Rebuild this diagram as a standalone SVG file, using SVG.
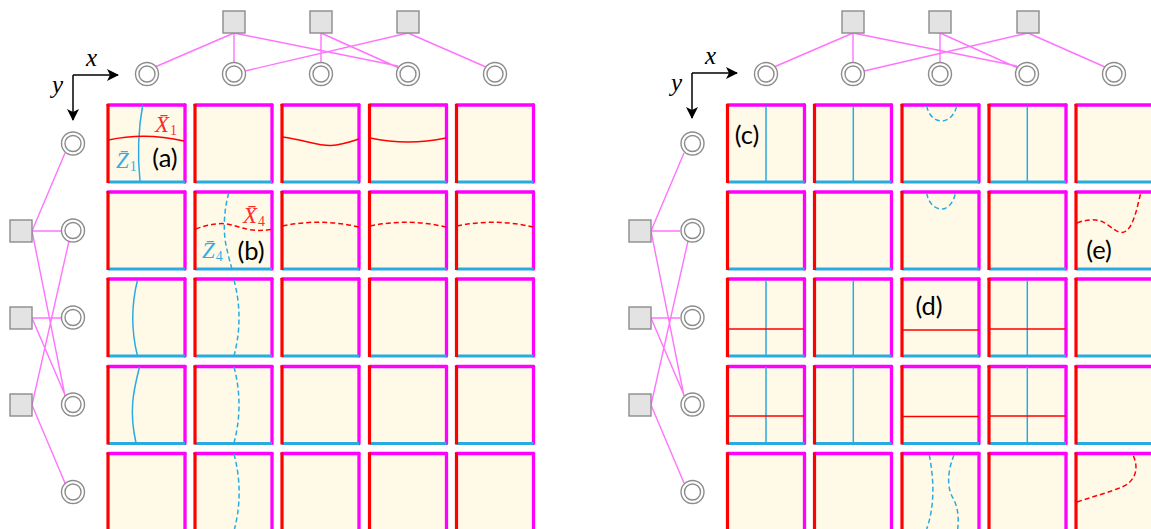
<svg xmlns="http://www.w3.org/2000/svg" width="1151" height="529" viewBox="0 0 1151 529">
<style>
.sq{fill:#e3e3e3;stroke:#8c8c8c;stroke-width:1.4}
.co{fill:#fff;stroke:#8c8c8c;stroke-width:1.4}
.e{stroke:#ff73ff;stroke-width:1.4;fill:none}
.ax{stroke:#000;stroke-width:1.5;fill:none}
.r,.rd{stroke:#ff0000;stroke-width:1.5;fill:none}
.b,.bd{stroke:#29abe2;stroke-width:1.5;fill:none}
.rd,.bd{stroke-dasharray:5 3}
.lab{font-family:Lato,"Open Sans",sans-serif;font-size:25.500px;fill:#000;text-anchor:middle}
.m{font-family:"Liberation Serif",serif;font-style:italic;font-size:23px}
.v{font-size:25px}
.mr{fill:#ff2a2a}.mb{fill:#33aee4}
.s{font-size:14px;font-style:normal}
</style>
<defs>
<g id="cell">
<rect width="77" height="77" fill="#fffae8"/>
<path d="M0 0H77" stroke="#ff00ff" stroke-width="3.300" stroke-linecap="round" fill="none"/>
<path d="M77 0V77" stroke="#ff00ff" stroke-width="3.300" stroke-linecap="round" fill="none"/>
<path d="M0 77H77" stroke="#29abe2" stroke-width="3.200" fill="none"/>
<path d="M0 -1V78" stroke="#ff0000" stroke-width="3.200" fill="none"/>
</g>
<g id="sqn"><rect x="-11" y="-11" width="22" height="22" class="sq"/></g>
<g id="con"><circle r="11.500" class="co"/><circle r="8" class="co"/></g>
<marker id="arr" viewBox="0 0 12 12" refX="11" refY="6" markerWidth="12" markerHeight="12" markerUnits="userSpaceOnUse" orient="auto"><path d="M0 0L12 6L0 12L3 6Z" fill="#000"/></marker>
</defs>

<g id="grid-left">
<use href="#cell" x="108" y="105"/><use href="#cell" x="195" y="105"/><use href="#cell" x="282" y="105"/><use href="#cell" x="369.500" y="105"/><use href="#cell" x="456.500" y="105"/>
<use href="#cell" x="108" y="192"/><use href="#cell" x="195" y="192"/><use href="#cell" x="282" y="192"/><use href="#cell" x="369.500" y="192"/><use href="#cell" x="456.500" y="192"/>
<use href="#cell" x="108" y="279"/><use href="#cell" x="195" y="279"/><use href="#cell" x="282" y="279"/><use href="#cell" x="369.500" y="279"/><use href="#cell" x="456.500" y="279"/>
<use href="#cell" x="108" y="366.500"/><use href="#cell" x="195" y="366.500"/><use href="#cell" x="282" y="366.500"/><use href="#cell" x="369.500" y="366.500"/><use href="#cell" x="456.500" y="366.500"/>
<use href="#cell" x="108" y="453.500"/><use href="#cell" x="195" y="453.500"/><use href="#cell" x="282" y="453.500"/><use href="#cell" x="369.500" y="453.500"/><use href="#cell" x="456.500" y="453.500"/>
</g>
<g id="grid-right">
<use href="#cell" x="727.500" y="105"/><use href="#cell" x="814.500" y="105"/><use href="#cell" x="902" y="105"/><use href="#cell" x="989" y="105"/><use href="#cell" x="1076" y="105"/>
<use href="#cell" x="727.500" y="192"/><use href="#cell" x="814.500" y="192"/><use href="#cell" x="902" y="192"/><use href="#cell" x="989" y="192"/><use href="#cell" x="1076" y="192"/>
<use href="#cell" x="727.500" y="279"/><use href="#cell" x="814.500" y="279"/><use href="#cell" x="902" y="279"/><use href="#cell" x="989" y="279"/><use href="#cell" x="1076" y="279"/>
<use href="#cell" x="727.500" y="366.500"/><use href="#cell" x="814.500" y="366.500"/><use href="#cell" x="902" y="366.500"/><use href="#cell" x="989" y="366.500"/><use href="#cell" x="1076" y="366.500"/>
<use href="#cell" x="727.500" y="453.500"/><use href="#cell" x="814.500" y="453.500"/><use href="#cell" x="902" y="453.500"/><use href="#cell" x="989" y="453.500"/><use href="#cell" x="1076" y="453.500"/>
</g>

<g id="curves-left">
<path class="b" d="M142.700 105Q136 142 140 181"/>
<path class="r" d="M108.500 140Q145 132 184 141"/>
<path class="r" d="M282.500 137C305 140 318 146 331 145.500C342 145 350 142 359 139"/>
<path class="r" d="M370 138Q408 146 446 138"/>
<path class="rd" d="M195.500 229C210 224 222 222 232 225C245 229 255 232 271 229.500"/>
<path class="bd" d="M228.700 193C224 210 223 230 226 245C228 255 230 262 231.700 268"/>
<path class="rd" d="M282.500 226Q320 218 359 227"/>
<path class="rd" d="M370 226Q408 218 446 227"/>
<path class="rd" d="M457 226Q495 218 533 227"/>
<path class="b" d="M137.500 280Q128 318 137.500 356"/>
<path class="bd" d="M234 280Q244 318 234 356"/>
<path class="b" d="M139.500 367C133 392 129 412 136 443"/>
<path class="bd" d="M234 367Q244 405 234 443"/>
<path class="bd" d="M234 454Q244 492 234.500 529"/>
</g>
<g id="curves-right">
<path class="b" d="M766 106V181M853.300 106V181M1027.300 106V181"/>
<path class="b" d="M766 280V356M853.300 280V356M1027.300 280V356"/>
<path class="b" d="M766 367V443M853.300 367V443M1027.300 367V443"/>
<path class="r" d="M728 329H804M903 330H979M990 329H1065"/>
<path class="r" d="M728 416H804M903 416.500H979M990 416H1065"/>
<path class="bd" d="M926.700 106C928 114 934 121 941.700 121C949 121 955 114 956.700 106"/>
<path class="bd" d="M926.700 193C928 202 934 209 941.700 209C948 209 954 202 955.300 193"/>
<path class="rd" d="M1077 223C1090 218 1100 219 1108 225C1116 231 1121 235 1126 231C1134 225 1137 208 1140.700 193"/>
<path class="rd" d="M1077 502C1095 496 1110 492 1122 487C1134 482 1140 470 1133 455"/>
<path class="bd" d="M929.300 455C934 480 935 505 926.700 529"/>
<path class="bd" d="M954 455C946 475 948 490 953 498C958 507 959 518 957.700 529"/>
</g>

<g id="connectors">
<path class="e" d="M234 33L155 67M234 33V62M234 33L398 66M321 33V62M321 33L399 68M408 33L245 71M408 33L486 67"/>
<path class="e" d="M32 231L65 153M32 231H61M32 231L65 396M32 318H61M32 318L65 395M32 405L69 241M32 405L65 483"/>
<path class="e" d="M853 33L774 67M853 33V62M853 33L1017 66M940 33V62M940 33L1018 68M1028 33L864 71M1028 33L1105 67"/>
<path class="e" d="M651 231L684 153M651 231H680M651 231L684 396M651 318H680M651 318L684 395M651 405L688 241M651 405L684 483"/>
</g>

<g id="f1-top"><use href="#sqn" x="234" y="22"/></g>
<g id="f2-top"><use href="#sqn" x="321" y="22"/></g>
<g id="f3-top"><use href="#sqn" x="408" y="22"/></g>
<g id="v1-top"><use href="#con" x="147" y="74"/></g>
<g id="v2-top"><use href="#con" x="234" y="74"/></g>
<g id="v3-top"><use href="#con" x="321" y="74"/></g>
<g id="v4-top"><use href="#con" x="408" y="74"/></g>
<g id="v5-top"><use href="#con" x="495" y="74"/></g>
<g id="f1-left"><use href="#sqn" x="21" y="231"/></g>
<g id="f2-left"><use href="#sqn" x="21" y="318"/></g>
<g id="f3-left"><use href="#sqn" x="21" y="405"/></g>
<g id="v1-left"><use href="#con" x="73" y="143.500"/></g>
<g id="v2-left"><use href="#con" x="73" y="230.500"/></g>
<g id="v3-left"><use href="#con" x="73" y="317.500"/></g>
<g id="v4-left"><use href="#con" x="73" y="404.500"/></g>
<g id="v5-left"><use href="#con" x="73" y="492"/></g>

<g id="f1-top-r"><use href="#sqn" x="853" y="22"/></g>
<g id="f2-top-r"><use href="#sqn" x="940" y="22"/></g>
<g id="f3-top-r"><use href="#sqn" x="1028" y="22"/></g>
<g id="v1-top-r"><use href="#con" x="766" y="74"/></g>
<g id="v2-top-r"><use href="#con" x="853" y="74"/></g>
<g id="v3-top-r"><use href="#con" x="940" y="74"/></g>
<g id="v4-top-r"><use href="#con" x="1027" y="74"/></g>
<g id="v5-top-r"><use href="#con" x="1114" y="74"/></g>
<g id="f1-left-r"><use href="#sqn" x="640" y="231"/></g>
<g id="f2-left-r"><use href="#sqn" x="640" y="318"/></g>
<g id="f3-left-r"><use href="#sqn" x="640" y="405"/></g>
<g id="v1-left-r"><use href="#con" x="692.500" y="143.500"/></g>
<g id="v2-left-r"><use href="#con" x="692.500" y="230.500"/></g>
<g id="v3-left-r"><use href="#con" x="692.500" y="317.500"/></g>
<g id="v4-left-r"><use href="#con" x="692.500" y="404.500"/></g>
<g id="v5-left-r"><use href="#con" x="692.500" y="492"/></g>

<g id="axes-left">
<path class="ax" marker-end="url(#arr)" d="M73 75H118"/>
<path class="ax" marker-end="url(#arr)" d="M73 75V120"/>
<text class="m v" x="86" y="66">x</text>
<text class="m v" x="52" y="93">y</text>
</g>
<g id="axes-right">
<path class="ax" marker-end="url(#arr)" d="M692 73H737"/>
<path class="ax" marker-end="url(#arr)" d="M692 73V118"/>
<text class="m v" x="705" y="64">x</text>
<text class="m v" x="671" y="91">y</text>
</g>

<g id="labels">
<text class="m mr" x="155" y="132">X&#772;<tspan class="s" dx="1" dy="3">1</tspan></text>
<text class="m mb" x="116" y="168">Z&#772;<tspan class="s" dx="1" dy="3">1</tspan></text>
<text class="m mr" x="243" y="223">X&#772;<tspan class="s" dx="1" dy="3">4</tspan></text>
<text class="m mb" x="202" y="258">Z&#772;<tspan class="s" dx="1" dy="3">4</tspan></text>
<text class="lab" x="165" y="167">(a)</text>
<text class="lab" x="251" y="260">(b)</text>
<text class="lab" x="747" y="144">(c)</text>
<text class="lab" x="929" y="315">(d)</text>
<text class="lab" x="1099" y="259">(e)</text>
</g>
</svg>
